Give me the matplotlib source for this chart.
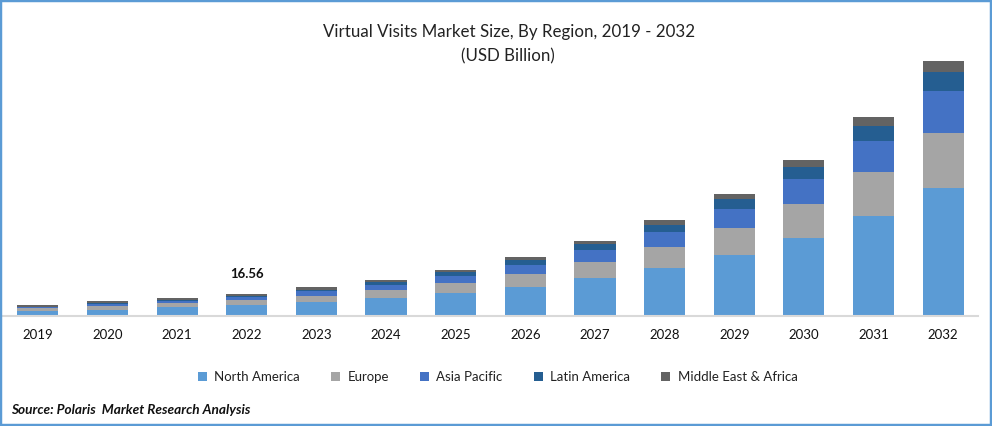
import matplotlib
matplotlib.use("Agg")
import matplotlib.pyplot as plt
from matplotlib.patches import Rectangle
import numpy as np

plt.rcParams['font.family'] = ['Lato', 'DejaVu Sans']

years = ['2019', '2020', '2021', '2022', '2023', '2024', '2025', '2026', '2027', '2028', '2029', '2030', '2031', '2032']

# USD billion
north_america = [3.2, 4.7, 6.3, 7.9, 10.3, 13.4, 17.4, 22.1, 29.2, 37.1, 47.3, 60.8, 78.1, 100.2]
europe = [2.4, 2.4, 3.2, 3.9, 4.7, 6.3, 7.9, 10.3, 12.6, 16.6, 21.3, 26.8, 34.7, 43.4]
asia_pacific = [0.8, 2.1, 1.6, 2.4, 3.9, 4.3, 5.5, 7.1, 9.5, 11.8, 15.0, 19.7, 24.5, 32.3]
latin_america = [0.6, 0.8, 1.3, 1.3, 1.3, 2.4, 3.2, 3.9, 4.7, 5.5, 7.9, 9.5, 11.8, 15.0]
mea = [1.0, 1.0, 1.0, 1.06, 1.8, 1.2, 1.6, 2.4, 2.4, 3.9, 3.9, 5.5, 7.1, 8.7]

series = [
    ('North America', north_america, '#5B9BD5'),
    ('Europe', europe, '#A5A5A5'),
    ('Asia Pacific', asia_pacific, '#4472C4'),
    ('Latin America', latin_america, '#255E91'),
    ('Middle East & Africa', mea, '#636363'),
]

fig = plt.figure(figsize=(9.92, 4.26), dpi=100)
W, H = 992, 426

# plot area in pixels
left, right, top, base = 3, 978, 50, 315.5
ax = fig.add_axes([left / W, 1 - base / H, (right - left) / W, (base - top) / H])

x = np.arange(len(years))
bottom = np.zeros(len(years))
handles = []
for name, vals, col in series:
    b = ax.bar(x, vals, width=0.59, bottom=bottom, color=col, label=name)
    handles.append(b)
    bottom += np.array(vals)

ax.set_xlim(-0.5, len(years) - 0.5)
ax.set_ylim(0, (base - top) * 0.785)
ax.set_xticks(x)
ax.set_xticklabels(years, fontsize=9.5, color='#111111')
ax.tick_params(axis='x', length=0, pad=9.5)
ax.set_yticks([])
for s in ['top', 'left', 'right']:
    ax.spines[s].set_visible(False)
ax.spines['bottom'].set_color('#D9D9D9')
ax.spines['bottom'].set_linewidth(1.5)

ax.text(3, bottom[3] + 11.5, '16.56', ha='center', va='bottom', fontsize=9.5,
        fontweight='bold', color='#111111')

fig.text(509.5 / W, 1 - 32 / H, 'Virtual Visits Market Size, By Region, 2019 - 2032',
         ha='center', va='center', fontsize=12.2, color='#222222')
fig.text(508 / W, 1 - 56 / H, '(USD Billion)', ha='center', va='center',
         fontsize=12.2, color='#222222')

fig.legend(handles=handles, loc='center', bbox_to_anchor=(497.5 / W, 1 - 377 / H), ncol=5,
           frameon=False, fontsize=9.5, handlelength=0.7, handleheight=0.7,
           handletextpad=0.55, columnspacing=2.35, labelcolor='#222222')

fig.text(11 / W, 1 - 410 / H, 'Source: Polaris  Market Research Analysis', ha='left', va='center',
         fontsize=9.8, fontweight='bold', fontstyle='italic', color='#111111')

# blue frame round the picture
fig.add_artist(Rectangle((0, 0), 1, 1, transform=fig.transFigure, fill=False,
                         edgecolor='#5B9BD5', linewidth=3.2))

fig.savefig('out.png', dpi=100)
